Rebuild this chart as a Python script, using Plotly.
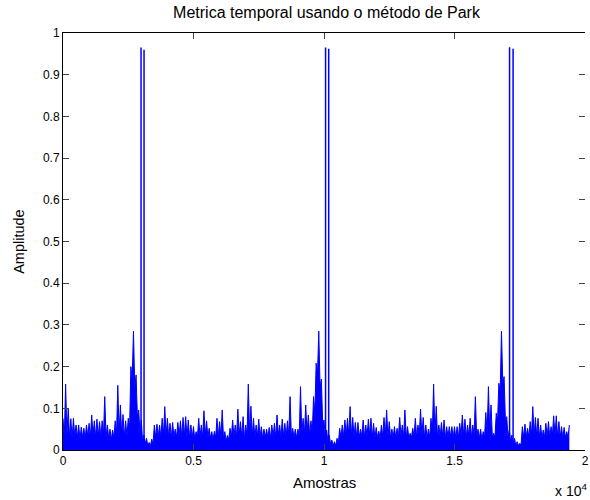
import plotly.graph_objects as go

# Envelope of the time metric: peak value per 100-sample bin
picos = [
    0.076, 0.158, 0.100, 0.075, 0.076, 0.060, 0.060, 0.055, 0.052, 0.060,
    0.064, 0.084, 0.070, 0.074, 0.068, 0.070, 0.128, 0.060, 0.050, 0.048,
    0.070, 0.155, 0.108, 0.085, 0.070, 0.076, 0.200, 0.285, 0.180, 0.096,
    0.072, 0.036, 0.028, 0.018, 0.026, 0.060, 0.062, 0.060, 0.076, 0.104,
    0.076, 0.064, 0.066, 0.050, 0.066, 0.070, 0.078, 0.080, 0.072, 0.060,
    0.056, 0.044, 0.076, 0.060, 0.094, 0.070, 0.052, 0.044, 0.045, 0.076,
    0.068, 0.096, 0.044, 0.035, 0.052, 0.072, 0.060, 0.098, 0.068, 0.080,
    0.060, 0.158, 0.105, 0.076, 0.060, 0.074, 0.056, 0.050, 0.050, 0.054,
    0.060, 0.064, 0.084, 0.060, 0.074, 0.064, 0.070, 0.128, 0.052, 0.050,
    0.050, 0.152, 0.076, 0.108, 0.084, 0.070, 0.128, 0.208, 0.285, 0.170,
    0.072, 0.048, 0.036, 0.024, 0.020, 0.028, 0.052, 0.060, 0.072, 0.076,
    0.104, 0.078, 0.066, 0.066, 0.050, 0.072, 0.060, 0.074, 0.076, 0.064,
    0.054, 0.045, 0.060, 0.078, 0.096, 0.068, 0.050, 0.056, 0.052, 0.078,
    0.060, 0.096, 0.056, 0.040, 0.052, 0.076, 0.060, 0.098, 0.078, 0.060,
    0.050, 0.076, 0.158, 0.105, 0.060, 0.066, 0.072, 0.056, 0.056, 0.056,
    0.056, 0.056, 0.064, 0.084, 0.074, 0.060, 0.076, 0.060, 0.128, 0.050,
    0.050, 0.044, 0.090, 0.152, 0.108, 0.040, 0.088, 0.160, 0.285, 0.176,
    0.080, 0.048, 0.036, 0.028, 0.020, 0.016, 0.056, 0.062, 0.052, 0.068,
    0.104, 0.078, 0.076, 0.060, 0.048, 0.064, 0.068, 0.056, 0.082, 0.082,
    0.068, 0.056, 0.054, 0.044, 0.060,
]

# Minimum between consecutive peaks
vales = [
    0.030, 0.035, 0.030, 0.028, 0.032, 0.030, 0.025, 0.030, 0.028, 0.033,
    0.030, 0.035, 0.030, 0.032, 0.030, 0.035, 0.030, 0.028, 0.025, 0.030,
    0.035, 0.040, 0.035, 0.030, 0.032, 0.050, 0.170, 0.150, 0.080, 0.040,
    0.020, 0.015, 0.010, 0.010, 0.015, 0.030, 0.032, 0.030, 0.035, 0.033,
    0.030, 0.028, 0.032, 0.030, 0.035, 0.030, 0.033, 0.030, 0.028, 0.030,
    0.025, 0.030, 0.032, 0.030, 0.035, 0.030, 0.028, 0.025, 0.030, 0.032,
    0.030, 0.028, 0.022, 0.025, 0.030, 0.032, 0.030, 0.035, 0.030, 0.028,
    0.035, 0.040, 0.033, 0.030, 0.032, 0.030, 0.028, 0.030, 0.030, 0.028,
    0.032, 0.030, 0.035, 0.030, 0.032, 0.030, 0.035, 0.032, 0.030, 0.028,
    0.035, 0.040, 0.035, 0.040, 0.035, 0.040, 0.090, 0.180, 0.150, 0.060,
    0.030, 0.020, 0.015, 0.010, 0.010, 0.015, 0.030, 0.032, 0.035, 0.035,
    0.035, 0.032, 0.030, 0.030, 0.032, 0.030, 0.033, 0.035, 0.030, 0.028,
    0.030, 0.028, 0.032, 0.035, 0.030, 0.028, 0.030, 0.028, 0.030, 0.033,
    0.030, 0.030, 0.028, 0.030, 0.032, 0.030, 0.035, 0.033, 0.030, 0.028,
    0.030, 0.040, 0.038, 0.030, 0.032, 0.030, 0.028, 0.030, 0.032, 0.030,
    0.028, 0.030, 0.035, 0.033, 0.030, 0.032, 0.030, 0.035, 0.030, 0.028,
    0.025, 0.030, 0.040, 0.045, 0.030, 0.030, 0.070, 0.140, 0.160, 0.070,
    0.030, 0.020, 0.015, 0.010, 0.010, 0.012, 0.030, 0.032, 0.030, 0.035,
    0.035, 0.032, 0.030, 0.028, 0.030, 0.032, 0.030, 0.035, 0.035, 0.030,
    0.030, 0.028, 0.030, 0.030,
]

passo_bin = 100  # samples per envelope bin

# Sharp timing-metric peaks (sample index, amplitude)
amostras_picos = [2990, 3105, 10060, 10180, 17110, 17245]
valores_picos = [0.965, 0.960, 0.965, 0.962, 0.966, 0.962]

x_ticks = [0, 5000, 10000, 15000, 20000]
x_ticktext = ["0", "0.5", "1", "1.5", "2"]
y_ticks = [0, 0.1, 0.2, 0.3, 0.4, 0.5, 0.6, 0.7, 0.8, 0.9, 1]
y_ticktext = ["0", "0.1", "0.2", "0.3", "0.4", "0.5", "0.6", "0.7", "0.8", "0.9", "1"]

# build the interleaved peak / valley sequence
xs, ys = [], []
for k, p in enumerate(picos):
    xs.append(k * passo_bin)
    ys.append(p)
    if k < len(vales):
        xs.append(k * passo_bin + passo_bin // 2)
        ys.append(vales[k])

px, py = [], []
for s, v in zip(amostras_picos, valores_picos):
    px += [s, s, None]
    py += [0, v, None]

AZUL = "#0000FF"
FONT = "Liberation Sans, Arial, sans-serif"

fig = go.Figure()
fig.add_trace(go.Scatter(x=xs, y=ys, mode="lines", line=dict(color=AZUL, width=1),
                         fill="tozeroy", fillcolor=AZUL, hoverinfo="skip", showlegend=False))
fig.add_trace(go.Scatter(x=px, y=py, mode="lines", line=dict(color=AZUL, width=1.5),
                         hoverinfo="skip", showlegend=False))
# helper trace so the right-side tick axis is drawn
fig.add_trace(go.Scatter(x=[None], y=[None], yaxis="y2", showlegend=False, hoverinfo="skip"))

tickfont = dict(family=FONT, size=12, color="black")

fig.update_layout(
    width=590, height=500,
    margin=dict(l=63, r=1, t=33, b=50),
    paper_bgcolor="white", plot_bgcolor="white",
    title=dict(text="Metrica temporal usando o método de Park", x=(63 + 590) / 2 / 590,
               xanchor="center", y=1 - 12 / 500, yanchor="middle", yref="container",
               font=dict(family=FONT, size=16, color="black")),
    xaxis=dict(range=[0, 20000], tickvals=x_ticks, ticktext=x_ticktext,
               ticklabeloverflow="allow", showline=True, linecolor="black", linewidth=1,
               mirror="ticks", ticks="inside", ticklen=6, tickcolor="#444444",
               showgrid=False, zeroline=False, tickfont=tickfont),
    yaxis=dict(range=[0, 1], tickvals=y_ticks, ticktext=y_ticktext,
               showline=True, linecolor="black", linewidth=1, mirror=False,
               ticks="inside", ticklen=6, tickcolor="#444444",
               showgrid=False, zeroline=False, tickfont=tickfont),
    yaxis2=dict(range=[0, 1], tickvals=y_ticks, overlaying="y", side="right",
                ticks="inside", ticklen=6, tickcolor="#444444", showticklabels=False,
                showline=False, showgrid=False, zeroline=False),
    annotations=[
        dict(text="Amostras", xref="paper", yref="paper", x=0.5, y=-32 / 417,
             xanchor="center", yanchor="middle", showarrow=False,
             font=dict(family=FONT, size=15, color="black")),
        dict(text="Amplitude", xref="paper", yref="paper", x=-45 / 526, y=0.5,
             xanchor="center", yanchor="middle", textangle=-90, showarrow=False,
             font=dict(family=FONT, size=14.5, color="black")),
        dict(text="x 10<sup>4</sup>", xref="paper", yref="paper", x=(557 - 63) / 526,
             y=-40 / 417, xanchor="left", yanchor="middle", showarrow=False,
             font=dict(family=FONT, size=14, color="black")),
    ],
)

fig.write_html("out.html")
